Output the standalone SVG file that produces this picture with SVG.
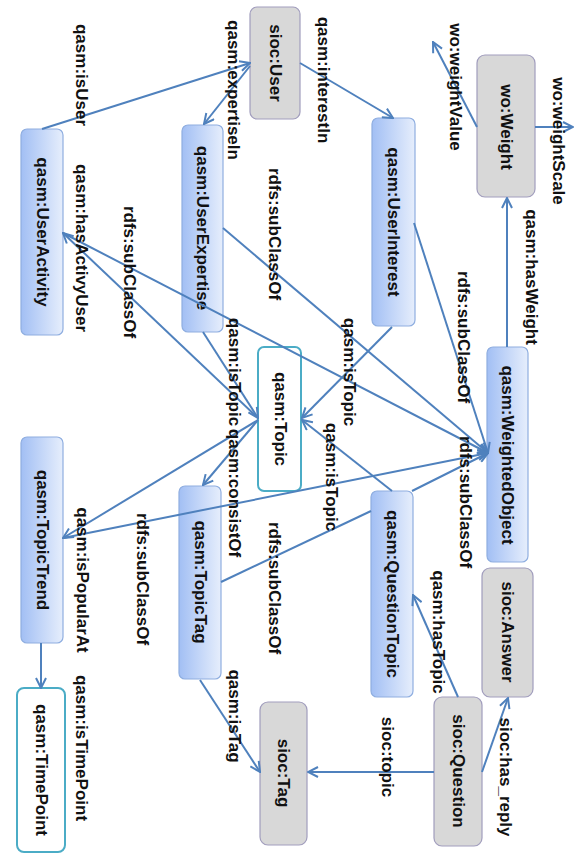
<svg xmlns="http://www.w3.org/2000/svg" width="574" height="860" viewBox="0 0 574 860">
<defs>
<linearGradient id="blue" x1="0" y1="0" x2="1" y2="0">
<stop offset="0" stop-color="#a2bff4"/>
<stop offset="1" stop-color="#e6eefc"/>
</linearGradient>
<marker id="arr" viewBox="0 0 12 12" refX="11" refY="6" markerWidth="12" markerHeight="12" markerUnits="userSpaceOnUse" orient="auto">
<path d="M1,1 L11,6 L1,11" fill="none" stroke="#4f81bd" stroke-width="2"/>
</marker>
<style>
.b{fill:url(#blue);stroke:#8faee0;stroke-width:1.2}
.g{fill:#d8d8d8;stroke:#a19dbd;stroke-width:1.2}
.w{fill:#fff;stroke:#4bacc6;stroke-width:2}
text{font-family:"Liberation Sans",Arial,sans-serif;font-weight:bold;font-size:17px;fill:#111;text-anchor:middle;dominant-baseline:central}
.e line{stroke:#4f81bd;stroke-width:2}
.a{marker-end:url(#arr)}
</style>
</defs>
<rect width="574" height="860" fill="#fff"/>

<g id="n-user"><rect class="g" x="250" y="7" width="50" height="112" rx="7"/><text transform="translate(275,63) rotate(90)">sioc:User</text></g>
<g id="n-weight"><rect class="g" x="477" y="55" width="58" height="142" rx="8"/><text transform="translate(506,127) rotate(90)">wo:Weight</text></g>
<g id="n-useractivity"><rect class="b" x="21" y="129" width="42" height="206" rx="6"/><text transform="translate(42,232) rotate(90)">qasm:UserActivity</text></g>
<g id="n-userexpertise"><rect class="b" x="182" y="125" width="41" height="207" rx="6"/><text transform="translate(202,228) rotate(90)">qasm:UserExpertise</text></g>
<g id="n-userinterest"><rect class="b" x="372" y="118" width="43" height="208" rx="6"/><text transform="translate(393,222) rotate(90)">qasm:UserInterest</text></g>
<g id="n-weightedobject"><rect class="b" x="487" y="347" width="41" height="215" rx="6"/><text transform="translate(507,455) rotate(90)">qasm:WeightedObject</text></g>
<g id="n-topic"><rect class="w" x="258" y="347" width="43" height="144" rx="6"/><text transform="translate(280,419) rotate(90)">qasm:Topic</text></g>
<g id="n-topictrend"><rect class="b" x="21" y="437" width="42" height="206" rx="6"/><text transform="translate(42,540) rotate(90)">qasm:TopicTrend</text></g>
<g id="n-topictag"><rect class="b" x="179" y="486" width="42" height="193" rx="6"/><text transform="translate(200,582) rotate(90)">qasm:TopicTag</text></g>
<g id="n-questiontopic"><rect class="b" x="371" y="491" width="42" height="206" rx="6"/><text transform="translate(392,594) rotate(90)">qasm:QuestionTopic</text></g>
<g id="n-answer"><rect class="g" x="482" y="568" width="51" height="129" rx="8"/><text transform="translate(507,632) rotate(90)">sioc:Answer</text></g>
<g id="n-question"><rect class="g" x="434" y="697" width="48" height="149" rx="8"/><text transform="translate(458,771) rotate(90)">sioc:Question</text></g>
<g id="n-tag"><rect class="g" x="260" y="702" width="47" height="143" rx="8"/><text transform="translate(283,773) rotate(90)">sioc:Tag</text></g>
<g id="n-timepoint"><rect class="w" x="17" y="688" width="48" height="164" rx="7"/><text transform="translate(41,770) rotate(90)">qasm:TimePoint</text></g>

<g id="connectors" class="e">
<line class="a" x1="42" y1="129" x2="250" y2="63"/>
<line class="a" x1="250" y1="66" x2="204" y2="124"/>
<line class="a" x1="300" y1="63" x2="393" y2="118"/>
<line class="a" x1="477" y1="127" x2="433" y2="42"/>
<line class="a" x1="535" y1="127" x2="573" y2="127"/>
<line class="a" x1="507" y1="347" x2="507" y2="198"/>
<line class="a" x1="414" y1="223" x2="488" y2="453"/>
<line class="a" x1="223" y1="228" x2="488" y2="453"/>
<line class="a" x1="63" y1="233" x2="488" y2="453"/>
<line class="a" x1="258" y1="418" x2="63" y2="233"/>
<line class="a" x1="203" y1="332" x2="258" y2="418"/>
<line class="a" x1="392" y1="327" x2="302" y2="418"/>
<line class="a" x1="392" y1="491" x2="302" y2="420"/>
<line class="a" x1="258" y1="420" x2="203" y2="485"/>
<line class="a" x1="258" y1="420" x2="63" y2="538"/>
<line class="a" x1="63" y1="538" x2="488" y2="453"/>
<line x1="221" y1="582" x2="371" y2="511"/>
<line class="a" x1="412" y1="491" x2="488" y2="453"/>
<line class="a" x1="41" y1="643" x2="41" y2="688"/>
<line class="a" x1="200" y1="680" x2="260" y2="772"/>
<line class="a" x1="434" y1="772" x2="308" y2="772"/>
<line class="a" x1="458" y1="697" x2="413" y2="595"/>
<line class="a" x1="482" y1="772" x2="508" y2="698"/>
</g>

<g id="labels">
<text transform="translate(81,75) rotate(90)">qasm:isUser</text>
<text transform="translate(233,90) rotate(90)">qasm:expertiseIn</text>
<text transform="translate(323,80) rotate(90)">qasm:interestIn</text>
<text transform="translate(455,87) rotate(90)">wo:weightValue</text>
<text transform="translate(558,141) rotate(90)">wo:weightScale</text>
<text transform="translate(531,277) rotate(90)">qasm:hasWeight</text>
<text transform="translate(463,337) rotate(90)">rdfs:subClassOf</text>
<text transform="translate(81,248) rotate(90)">qasm:hasActivyUser</text>
<text transform="translate(129,272) rotate(90)">rdfs:subClassOf</text>
<text transform="translate(274,234) rotate(90)">rdfs:subClassOf</text>
<text transform="translate(234,372) rotate(90)">qasm:isTopic</text>
<text transform="translate(234,493) rotate(90)">qasm:consistOf</text>
<text transform="translate(349,372) rotate(90)">qasm:isTopic</text>
<text transform="translate(331,477) rotate(90)">qasm:isTopic</text>
<text transform="translate(465,502) rotate(90)">rdfs:subClassOf</text>
<text transform="translate(274,588) rotate(90)">rdfs:subClassOf</text>
<text transform="translate(142,579) rotate(90)">rdfs:subClassOf</text>
<text transform="translate(82,580) rotate(90)">qasm:isPopularAt</text>
<text transform="translate(81,748) rotate(90)">qasm:isTimePoint</text>
<text transform="translate(234,716) rotate(90)">qasm:isTag</text>
<text transform="translate(438,632) rotate(90)">qasm:hasTopic</text>
<text transform="translate(387,757) rotate(90)">sioc:topic</text>
<text transform="translate(505,777) rotate(90)">sioc:has_reply</text>
</g>
</svg>
